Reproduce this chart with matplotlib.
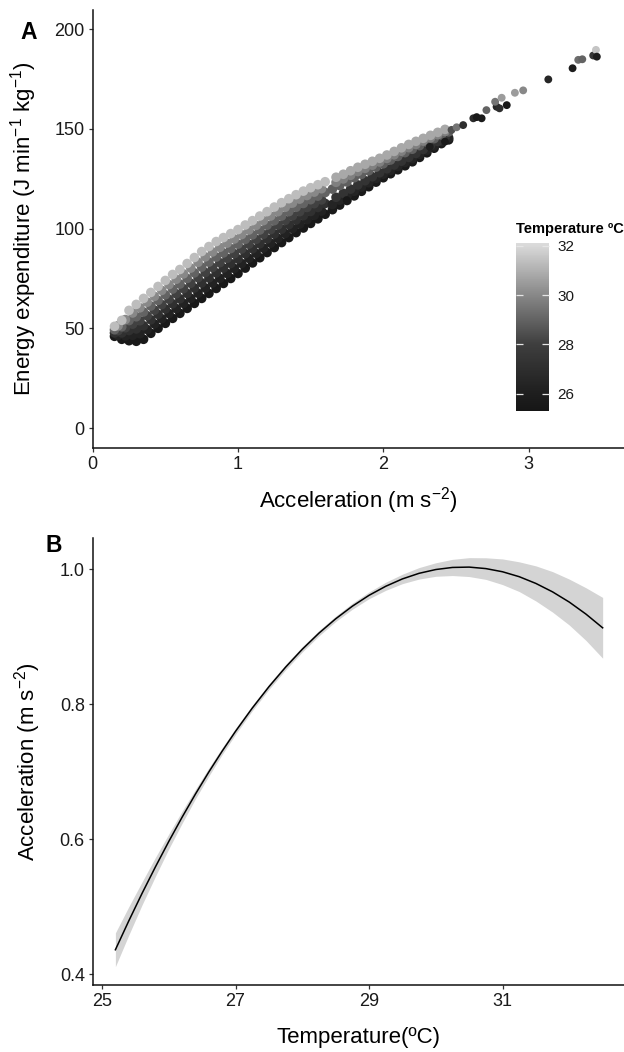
import numpy as np
import matplotlib
matplotlib.use("Agg")
import matplotlib.pyplot as plt
from matplotlib.colors import LinearSegmentedColormap, Normalize
from matplotlib.cm import ScalarMappable

plt.rcParams["font.family"] = ["Liberation Sans", "DejaVu Sans"]
plt.rcParams["mathtext.fontset"] = "custom"
plt.rcParams["mathtext.rm"] = "Liberation Sans"
plt.rcParams["mathtext.it"] = "Liberation Sans:italic"
plt.rcParams["mathtext.bf"] = "Liberation Sans:bold"

# ---- Panel A: energy expenditure vs acceleration, coloured by temperature ----
# dense part of the cloud, read as rows of points from dark (bottom) to light (top)
acc_grid_a = [0.15, 0.20, 0.25, 0.30, 0.35, 0.40, 0.45, 0.50, 0.55, 0.60,
              0.65, 0.70, 0.75, 0.80, 0.85, 0.90, 0.95, 1.00, 1.05, 1.10,
              1.15, 1.20, 1.25, 1.30, 1.35, 1.40, 1.45, 1.50, 1.55, 1.60]
acc_grid_b = [0.175, 0.225, 0.275, 0.325, 0.375, 0.425, 0.475, 0.525, 0.575, 0.625,
              0.675, 0.725, 0.775, 0.825, 0.875, 0.925, 0.975, 1.025, 1.075, 1.125,
              1.175, 1.225, 1.275, 1.325, 1.375, 1.425, 1.475, 1.525, 1.575]

energy_row0 = [46.0, 44.5, 43.8, 43.5, 44.5, 47.5, 50.0, 52.5, 55.0, 57.5,
               60.0, 62.5, 65.0, 67.5, 70.0, 72.5, 75.0, 77.5, 80.2, 82.8,
               85.4, 88.0, 90.5, 93.0, 95.5, 98.0, 100.3, 102.6, 104.9, 107.2]
energy_row1 = [46.5, 46.2, 46.5, 47.3, 49.4, 52.2, 54.8, 57.4, 59.9, 62.5,
               65.0, 67.6, 70.2, 72.7, 75.1, 77.5, 80.0, 82.5, 85.1, 87.6,
               90.2, 92.7, 95.1, 97.5, 100.0, 102.3, 104.5, 106.7, 108.8]
energy_row2 = [47.7, 47.7, 48.9, 49.7, 51.3, 54.3, 57.0, 59.7, 62.3, 64.8,
               67.5, 70.2, 72.8, 75.3, 77.8, 80.2, 82.5, 84.8, 87.4, 89.9,
               92.4, 94.8, 97.3, 99.7, 102.0, 104.3, 106.5, 108.6, 110.6, 112.6]
energy_row3 = [48.9, 50.3, 52.1, 53.8, 56.3, 59.1, 61.9, 64.6, 67.3, 69.9,
               72.6, 75.4, 78.0, 80.5, 82.9, 85.1, 87.4, 89.8, 92.2, 94.6,
               97.1, 99.5, 101.8, 104.1, 106.4, 108.5, 110.6, 112.5, 114.4]
energy_row4 = [49.3, 50.8, 53.9, 55.8, 58.2, 61.2, 64.0, 66.8, 69.7, 72.2,
               75.0, 77.8, 80.7, 83.2, 85.7, 87.8, 90.0, 92.2, 94.6, 96.9,
               99.3, 101.7, 104.0, 106.3, 108.5, 110.7, 112.6, 114.5, 116.3, 118.1]
energy_row5 = [51.3, 54.4, 57.7, 60.3, 63.1, 66.0, 69.0, 71.9, 74.6, 77.3,
               80.2, 83.1, 85.8, 88.3, 90.6, 92.7, 94.8, 97.0, 99.3, 101.6,
               104.0, 106.3, 108.5, 110.7, 112.8, 114.8, 116.6, 118.3, 120.0]
energy_row6 = [51.0, 54.0, 59.0, 62.0, 65.0, 68.0, 71.0, 74.0, 77.0, 79.5,
               82.5, 85.5, 88.5, 91.0, 93.5, 95.5, 97.5, 99.5, 101.8, 104.0,
               106.3, 108.5, 110.8, 113.0, 115.0, 117.0, 118.8, 120.5, 122.0, 123.5]
row_temps = [25.6, 26.3, 27.1, 28.1, 29.0, 30.0, 31.3]

# thinner middle section of the cloud
tail_grid_a = [1.65, 1.70, 1.75, 1.80, 1.85, 1.90, 1.95, 2.00, 2.05,
               2.10, 2.15, 2.20, 2.25, 2.30, 2.35, 2.40, 2.45]
tail_grid_b = [1.675, 1.725, 1.775, 1.825, 1.875, 1.925, 1.975, 2.025,
               2.075, 2.125, 2.175, 2.225, 2.275, 2.325, 2.375, 2.425]
tail_row0 = [109.5, 111.8, 114.1, 116.4, 118.7, 121.0, 123.3, 125.5, 127.5,
             129.5, 131.5, 133.5, 135.7, 138.0, 140.3, 142.6, 144.5]
tail_row1 = [112.1, 114.3, 116.4, 118.7, 120.8, 123.0, 125.2, 127.3, 129.2,
             131.2, 133.2, 135.1, 137.2, 139.3, 141.5, 143.7, 145.5]
tail_row2 = [115.7, 117.7, 119.8, 121.9, 124.0, 126.0, 128.0, 130.0,
             131.9, 133.8, 135.7, 137.7, 139.7, 141.7, 143.7, 145.6]
tail_row3 = [119.8, 121.6, 123.4, 125.5, 127.2, 129.0, 130.8, 132.5, 134.4,
             136.2, 138.1, 139.8, 141.6, 143.3, 145.1, 146.9, 148.5]
tail_row4 = [123.2, 124.9, 126.7, 128.6, 130.2, 131.8, 133.4, 135.2,
             137.0, 138.8, 140.6, 142.2, 143.9, 145.5, 147.1, 148.7]
tail_row5 = [125.75, 127.25, 129.0, 130.75, 132.25, 133.75, 135.25, 136.9,
             138.7, 140.5, 142.2, 143.75, 145.25, 146.75, 148.25, 149.75]
tail_temps = [25.7, 26.4, 27.3, 28.9, 29.8, 30.8]

# isolated points at high acceleration
sparse_acc = [1.748, 2.32, 2.425, 2.47, 2.505, 2.55, 2.62, 2.643, 2.677, 2.71,
              2.78, 2.80, 2.85, 2.77, 2.815, 2.906, 2.963, 3.136, 3.303, 3.342,
              3.37, 3.445, 3.464, 3.47]
sparse_energy = [114.3, 141.0, 143.6, 149.5, 150.8, 151.9, 155.3, 155.9, 155.3, 159.4,
                 161.1, 160.3, 161.9, 163.6, 165.6, 168.1, 169.3, 174.8, 180.4, 184.6,
                 184.9, 186.8, 189.6, 186.2]
sparse_temp = [25.5, 26.0, 25.5, 28.5, 29.5, 27.0, 26.8, 25.6, 25.7, 29.0,
               26.5, 27.0, 25.6, 29.5, 30.5, 30.5, 30.0, 26.5, 25.8, 29.3,
               29.0, 27.5, 31.5, 26.0]

# ---- Panel B: fitted acceleration vs temperature with confidence band ----
temp_b = [25.2, 25.4, 25.6, 25.8, 26.0, 26.2, 26.4, 26.6, 26.8, 27.0,
          27.25, 27.5, 27.75, 28.0, 28.25, 28.5, 28.75, 29.0, 29.25, 29.5,
          29.75, 30.0, 30.25, 30.5, 30.75, 31.0, 31.25, 31.5, 31.75, 32.0,
          32.25, 32.5]
fit_b = [0.4362, 0.4788, 0.5198, 0.5590, 0.5966, 0.6326, 0.6669, 0.6995, 0.7304, 0.7597,
         0.7940, 0.8257, 0.8547, 0.8812, 0.9051, 0.9263, 0.9450, 0.9611, 0.9745, 0.9854,
         0.9937, 0.9993, 1.0024, 1.0029, 1.0007, 0.9960, 0.9887, 0.9787, 0.9662, 0.9511,
         0.9333, 0.9130]
half_ci_b = [0.025, 0.021, 0.017, 0.014, 0.011, 0.009, 0.007, 0.006, 0.005, 0.0045,
             0.004, 0.004, 0.004, 0.004, 0.004, 0.004, 0.0045, 0.005, 0.006, 0.007,
             0.0085, 0.010, 0.012, 0.014, 0.016, 0.019, 0.022, 0.026, 0.030, 0.034,
             0.039, 0.045]

# assemble panel A points
rows_acc = [acc_grid_a, acc_grid_b, acc_grid_a, acc_grid_b, acc_grid_a, acc_grid_b, acc_grid_a]
rows_en = [energy_row0, energy_row1, energy_row2, energy_row3, energy_row4, energy_row5, energy_row6]
tails_acc = [tail_grid_a, tail_grid_a, tail_grid_b, tail_grid_a, tail_grid_b, tail_grid_b]
tails_en = [tail_row0, tail_row1, tail_row2, tail_row3, tail_row4, tail_row5]

xs, ys, cs = [], [], []
for a, e, t in zip(rows_acc + tails_acc, rows_en + tails_en, row_temps + tail_temps):
    xs += list(a)
    ys += list(e)
    cs += [t] * len(a)

cmap = LinearSegmentedColormap.from_list(
    "temp", [(0.0, "#161616"), (0.1, "#1e1e1e"), (0.394, "#3e3e3e"),
             (0.688, "#878787"), (0.982, "#d8d8d8"), (1.0, "#dcdcdc")])
norm = Normalize(25.32, 32.12)

W, H = 624, 1052
fig = plt.figure(figsize=(W / 100, H / 100), dpi=100)


def add_axes_px(left, top, right, bottom):
    return fig.add_axes([left / W, 1 - bottom / H, (right - left) / W, (bottom - top) / H])


def style(ax):
    for s in ["top", "right"]:
        ax.spines[s].set_visible(False)
    for s in ["left", "bottom"]:
        ax.spines[s].set_linewidth(1.1)
        ax.spines[s].set_color("#111111")
    ax.tick_params(direction="out", length=3.2, width=0.9, color="#333333",
                   labelsize=13, labelcolor="#1a1a1a", pad=2.5)


axA = add_axes_px(92.7, 10, 624, 448)
axA.scatter(xs, ys, c=cs, cmap=cmap, norm=norm, s=48, linewidths=0)
axA.scatter(sparse_acc, sparse_energy, c=sparse_temp, cmap=cmap, norm=norm, s=32, linewidths=0)
axA.set_xlim(0, 3.657)
axA.set_ylim(-10, 209.6)
axA.set_xticks([0, 1, 2, 3])
axA.set_yticks([0, 50, 100, 150, 200])
style(axA)
axA.set_xlabel(r"Acceleration (m s$^{-2}$)", fontsize=16)
axA.set_ylabel(r"Energy expenditure (J min$^{-1}$ kg$^{-1}$)", fontsize=16)
axA.xaxis.set_label_coords(0.5, -0.085)
axA.yaxis.set_label_coords(-0.101, 0.5)

# colour bar legend
cax = fig.add_axes([515.7 / W, 1 - 410.7 / H, 33.3 / W, 168 / H])
cb = fig.colorbar(ScalarMappable(norm=norm, cmap=cmap), cax=cax)
cb.outline.set_visible(False)
cb.set_ticks([26, 28, 30, 32])
cax.tick_params(which="both", left=True, right=True, direction="in", length=5,
                width=0.9, color="#e6e6e6", labelsize=11, labelcolor="#1a1a1a", pad=6)
cax.minorticks_off()
fig.text(516.5 / W, 1 - 232.5 / H, "Temperature ºC", fontsize=10.5,
         fontweight="bold", ha="left", va="baseline")

axB = add_axes_px(92.7, 538, 624, 985)
lo = [f - h for f, h in zip(fit_b, half_ci_b)]
hi = [f + h for f, h in zip(fit_b, half_ci_b)]
axB.fill_between(temp_b, lo, hi, color="#d4d4d4", linewidth=0)
axB.plot(temp_b, fit_b, color="black", linewidth=1.1)
axB.set_xlim(24.86, 32.82)
axB.set_ylim(0.384, 1.046)
axB.set_xticks([25, 27, 29, 31])
axB.set_yticks([0.4, 0.6, 0.8, 1.0])
axB.set_yticklabels(["0.4", "0.6", "0.8", "1.0"])
style(axB)
axB.set_xlabel("Temperature(ºC)", fontsize=16)
axB.set_ylabel(r"Acceleration (m s$^{-2}$)", fontsize=16)
axB.xaxis.set_label_coords(0.5, -0.095)
axB.yaxis.set_label_coords(-0.094, 0.5)

fig.text(29 / W, 1 - 39 / H, "A", fontsize=16.5, fontweight="bold", ha="center", va="baseline")
fig.text(54 / W, 1 - 551.7 / H, "B", fontsize=16.5, fontweight="bold", ha="center", va="baseline")

fig.savefig("out.png", dpi=100)
